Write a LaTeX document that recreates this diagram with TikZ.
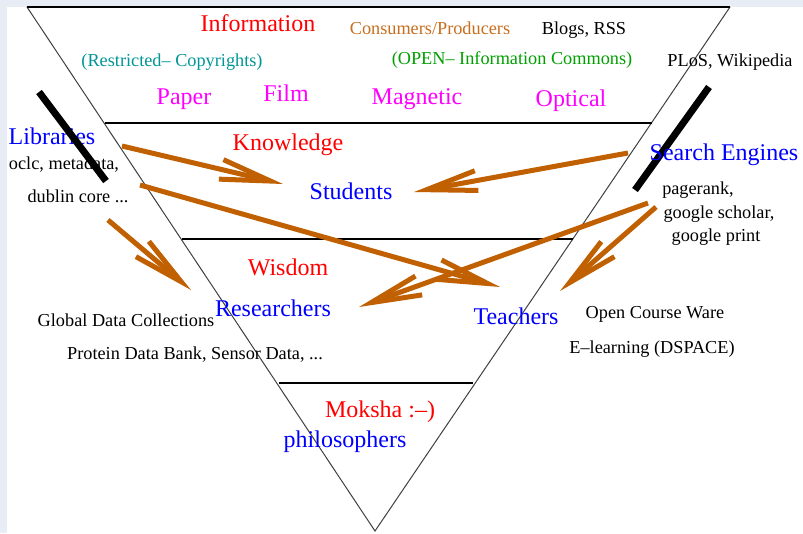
\documentclass[tikz,border=0pt]{standalone}
\usepackage{fontspec}
\setmainfont{Liberation Serif}
\usetikzlibrary{arrows.meta}
\definecolor{rust}{RGB}{192,96,0}
\definecolor{copper}{RGB}{200,110,30}
\definecolor{cyanish}{RGB}{0,150,150}
\definecolor{leaf}{RGB}{0,160,0}
\definecolor{fuchsia}{RGB}{255,0,255}
\definecolor{slide}{RGB}{232,237,245}
\tikzset{
  big/.style={font=\fontsize{18}{20}\selectfont,inner sep=0pt,text height=12pt,text depth=0pt},
  small/.style={font=\fontsize{13.7}{16}\selectfont,inner sep=0pt,text height=9pt,text depth=0pt},
  flow/.style={rust,line width=3.75pt,-{Straight Barb[length=38pt,width=15pt]}},
  edge/.style={black!75,line width=0.75pt},
  level/.style={black,line width=1pt},
}
\begin{document}
\begin{tikzpicture}[x=0.75pt,y=-0.75pt]
  \fill[slide] (0,0) rectangle (803,533);
  \fill[white] (7,7) rectangle (803,533);
  \useasboundingbox (0,0) rectangle (803,533);
  % pyramid
  \draw[edge] (27,7) -- (375,531) -- (730,7);
  \draw[level,line width=1.3pt] (27,7) -- (730,7);
  \draw[level] (105,123) -- (652,123);
  \draw[level] (182,239) -- (573,239);
  \draw[level] (279,383) -- (473,383);
  \draw[line width=5.25pt] (709,87) -- (635,190);
  % labels
  \node[big,red] (info) at (258,23) {Information};
  \node[small,copper] (cons) at (430,28) {Consumers/Producers};
  \node[small] (blogs) at (584,28) {Blogs, RSS};
  \node[small,cyanish] (restr) at (172,60) {(Restricted-- Copyrights)};
  \node[small,leaf] (open) at (512,58) {(OPEN-- Information Commons)};
  \node[small] (plos) at (730,60) {PLoS, Wikipedia};
  \node[big,fuchsia] (paper) at (184,96) {Paper};
  \node[big,fuchsia] (film) at (286,93) {Film};
  \node[big,fuchsia] (magn) at (417,96) {Magnetic};
  \node[big,fuchsia] (optic) at (571,98) {Optical};
  \node[big,blue] (lib) at (52,136) {Libraries};
  \node[small] (oclc) at (64,163) {oclc, metadata,};
  \node[small] (dublin) at (78,196) {dublin core ...};
  \node[big,red] (know) at (288,142) {Knowledge};
  \node[big,blue] (stud) at (351,191) {Students};
  \node[big,blue] (search) at (724,152) {Search Engines};
  \node[small] (prank) at (698,188) {pagerank,};
  \node[small] (gschol) at (719,212) {google scholar,};
  \node[small] (gprint) at (716,235) {google print};
  \node[big,red] (wisd) at (288,267) {Wisdom};
  \node[big,blue] (res) at (273,308) {Researchers};
  \node[small] (gdc) at (126,320) {Global Data Collections};
  \node[small] (pdb) at (195,353) {Protein Data Bank, Sensor Data, ...};
  \node[big,blue] (teach) at (516,316) {Teachers};
  \node[small] (ocw) at (655,312) {Open Course Ware};
  \node[small] (elearn) at (652,347) {E--learning (DSPACE)};
  \node[big,red] (moksha) at (380,409) {Moksha :--)};
  \node[big,blue] (phil) at (345,439) {philosophers};
  \draw[line width=5.25pt] (39,92) -- (106,181);
  % arrows
  \coordinate (libout) at (122,146);
  \coordinate (studin) at (283,184);
  \coordinate (libout2) at (140,185);
  \coordinate (teachin) at (500,287);
  \coordinate (dubout) at (108,220);
  \coordinate (resin) at (191,290);
  \coordinate (seout) at (628,153);
  \coordinate (studin2) at (414,192);
  \coordinate (prout) at (648,203);
  \coordinate (resin2) at (359,307);
  \coordinate (gsout) at (656,207);
  \coordinate (ocwin) at (560,291);
  \draw[flow] (libout) -- (studin);
  \draw[flow] (libout2) -- (teachin);
  \draw[flow] (dubout) -- (resin);
  \draw[flow] (seout) -- (studin2);
  \draw[flow] (prout) -- (resin2);
  \draw[flow] (gsout) -- (ocwin);
\end{tikzpicture}
\end{document}
